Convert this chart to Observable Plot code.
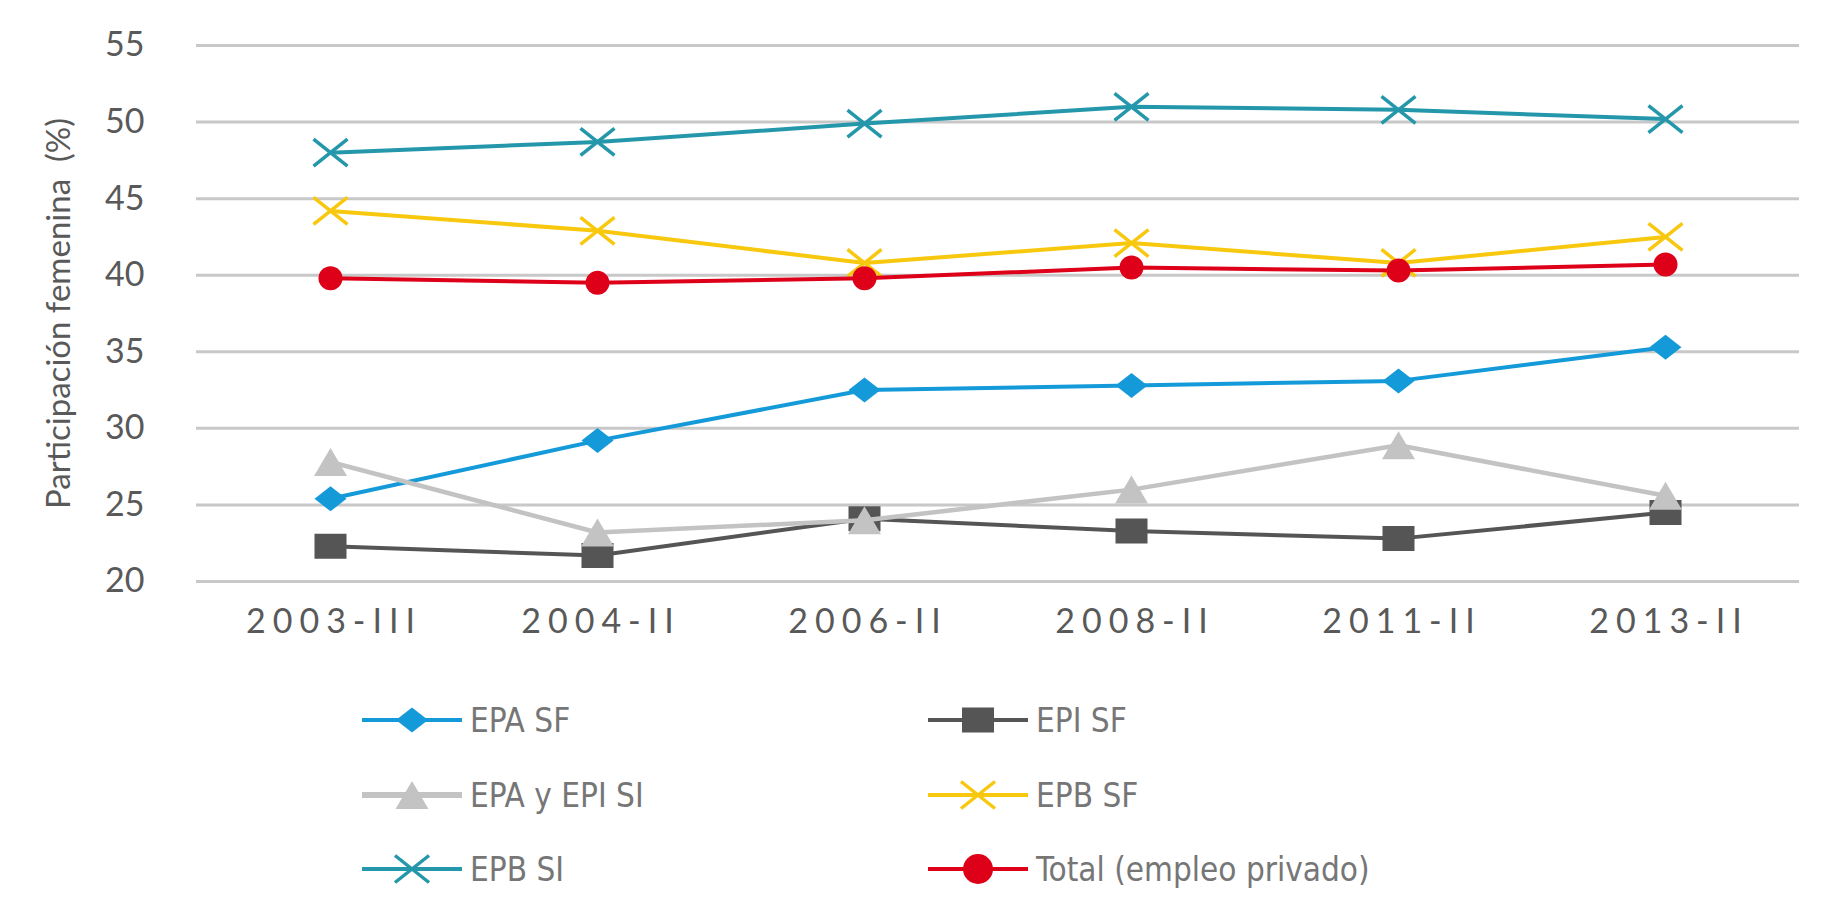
<!DOCTYPE html>
<html>
<head>
<meta charset="utf-8">
<script src="https://cdn.jsdelivr.net/npm/d3@7"></script>
<script src="https://cdn.jsdelivr.net/npm/@observablehq/plot@0.6"></script>
<style>
  body { margin: 0; background: #fff; }
  #wrap { position: relative; width: 1842px; height: 913px; background: #fff; }
  #chart svg { display: block; }
  g[aria-label="y-axis label"] text { font-size: 33px; }
  g[aria-label="x-axis tick label"] text { letter-spacing: 7px; }
  .leg { position: absolute; display: flex; align-items: center; height: 44px;
         font-family: "Liberation Sans Narrow", "DejaVu Sans Condensed", sans-serif;
         font-size: 33px; color: #767676; white-space: nowrap; }
  .leg svg { display: block; margin-right: 8px; }
</style>
</head>
<body>
<div id="wrap"><div id="chart"></div><div id="legend"></div></div>
<script>
// ---------- data ----------
const categories = ["2003-III", "2004-II", "2006-II", "2008-II", "2011-II", "2013-II"];
const seriesNames = ["EPA SF", "EPI SF", "EPA y EPI SI", "EPB SF", "EPB SI", "Total (empleo privado)"];
const epaSF   = [25.4, 29.2, 32.5, 32.8, 33.1, 35.3];
const epiSF   = [22.3, 21.7, 24.1, 23.3, 22.8, 24.5];
const epaEpiSI = [27.8, 23.2, 24.0, 26.0, 28.9, 25.6];
const epbSF   = [44.2, 42.9, 40.8, 42.1, 40.8, 42.5];
const epbSI   = [48.0, 48.7, 49.9, 51.0, 50.8, 50.2];
const total   = [39.8, 39.5, 39.8, 40.5, 40.3, 40.7];
const yTicks  = [20, 25, 30, 35, 40, 45, 50, 55];
const yLabel  = "Participación femenina\u00A0\u00A0(%)";

// ---------- styles ----------
const rectSym = (w, h) => ({draw(c) { c.rect(-w / 2, -h / 2, w, h); }});
const diamondSym = (w, h) => ({draw(c) { c.moveTo(0, -h / 2); c.lineTo(w / 2, 0); c.lineTo(0, h / 2); c.lineTo(-w / 2, 0); c.closePath(); }});
const triSym = (w, h) => ({draw(c) { c.moveTo(0, -h / 2); c.lineTo(w / 2, h / 2); c.lineTo(-w / 2, h / 2); c.closePath(); }});
const xSym = (w, h) => ({draw(c) { c.moveTo(-w / 2, -h / 2); c.lineTo(w / 2, h / 2); c.moveTo(w / 2, -h / 2); c.lineTo(-w / 2, h / 2); }});
const circSym = (r) => ({draw(c) { c.moveTo(r, 0); c.arc(0, 0, r, 0, 2 * Math.PI); }});

const styles = [
  {color: "#159ad9", sym: diamondSym(32, 25), kind: "fill", lw: 4},
  {color: "#555555", sym: rectSym(32, 25), kind: "fill", lw: 4},
  {color: "#c3c3c3", sym: triSym(33, 28), kind: "fill", lw: 4.5},
  {color: "#f8c80f", sym: xSym(34, 27), kind: "stroke", lw: 4},
  {color: "#2597ab", sym: xSym(34, 27), kind: "stroke", lw: 4},
  {color: "#dd0018", sym: circSym(12), legendSym: circSym(15), kind: "fill", lw: 4}
];
const values = [epaSF, epiSF, epaEpiSI, epbSF, epbSI, total];

const data = seriesNames.map((name, s) =>
  categories.map((cat, i) => ({series: name, cat, value: values[s][i]})));

const marks = [
  Plot.ruleY(yTicks, {stroke: "#c8c8c8", strokeWidth: 3}),
  Plot.axisY({ticks: yTicks, tickSize: 0, tickPadding: 52, fontSize: 34, fill: "#595959",
              fontFamily: "Lato, sans-serif",
              label: yLabel, labelAnchor: "center", labelOffset: 150, labelArrow: false}),
  Plot.axisX({tickSize: 0, tickPadding: 27, fontSize: 34, fill: "#595959", dx: 3.5,
              fontFamily: "Lato, sans-serif", label: null})
];
data.forEach((rows, s) => {
  const st = styles[s];
  marks.push(Plot.line(rows, {x: "cat", y: "value", stroke: st.color, strokeWidth: st.lw, strokeLinejoin: "round"}));
  if (st.kind === "fill") {
    marks.push(Plot.dot(rows, {x: "cat", y: "value", symbol: st.sym, r: 5, fill: st.color, stroke: "none"}));
  } else {
    marks.push(Plot.dot(rows, {x: "cat", y: "value", symbol: st.sym, r: 5, fill: "none", stroke: st.color, strokeWidth: 3.5}));
  }
});

const chart = Plot.plot({
  width: 1842,
  height: 670,
  marginTop: 45,
  marginBottom: 89,
  marginLeft: 196,
  marginRight: 43,
  style: {fontFamily: "Lato, sans-serif", color: "#595959", background: "#fff", overflow: "visible"},
  x: {type: "point", domain: categories, padding: 0.5},
  y: {domain: [20, 55]},
  marks
});
document.getElementById("chart").appendChild(chart);

// ---------- legend (HTML, below the svg) ----------
const legendPos = [
  {left: 362, top: 698}, {left: 928, top: 698},
  {left: 362, top: 773}, {left: 928, top: 773},
  {left: 362, top: 847}, {left: 928, top: 847}
];
const legend = document.getElementById("legend");
seriesNames.forEach((name, s) => {
  const st = styles[s];
  const div = document.createElement("div");
  div.className = "leg";
  div.style.left = legendPos[s].left + "px";
  div.style.top = legendPos[s].top + "px";
  const svg = d3.create("svg").attr("width", 100).attr("height", 44);
  svg.append("line").attr("x1", 0).attr("x2", 100).attr("y1", 22).attr("y2", 22)
    .attr("stroke", st.color).attr("stroke-width", s === 2 ? 6 : 4);
  const p = d3.path();
  (st.legendSym || st.sym).draw(p);
  const path = svg.append("path").attr("d", p.toString()).attr("transform", "translate(50,22)");
  if (st.kind === "fill") path.attr("fill", st.color);
  else path.attr("fill", "none").attr("stroke", st.color).attr("stroke-width", 3.5);
  div.appendChild(svg.node());
  const span = document.createElement("span");
  span.textContent = name;
  div.appendChild(span);
  legend.appendChild(div);
});
</script>
</body>
</html>
